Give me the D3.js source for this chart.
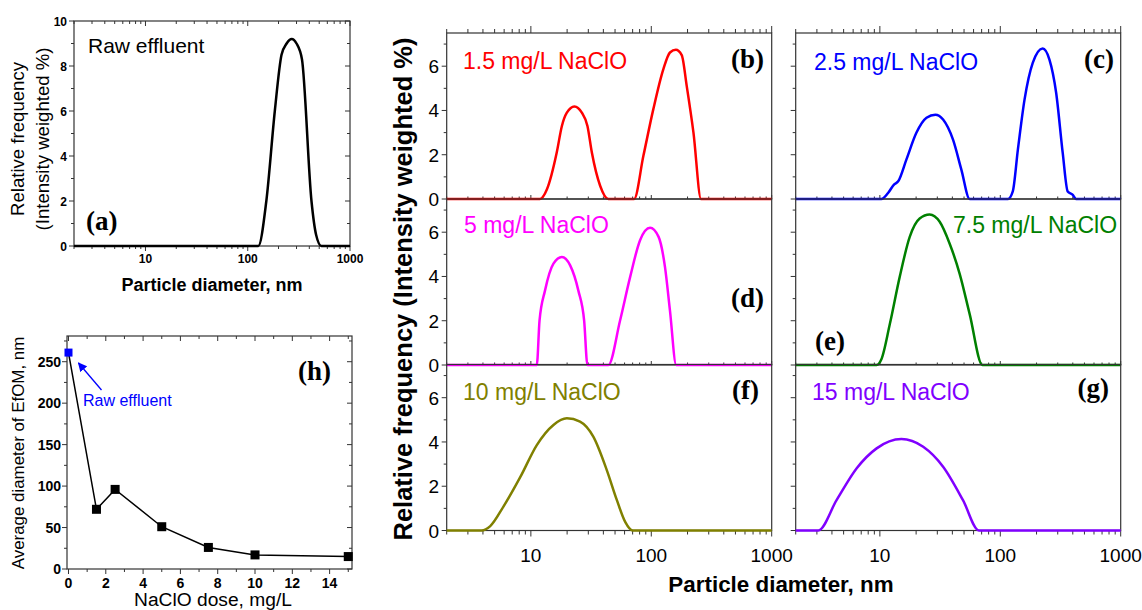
<!DOCTYPE html>
<html><head><meta charset="utf-8">
<script src="https://cdn.jsdelivr.net/npm/d3@7"></script>
<style>body{margin:0;background:#fff} svg{display:block;font-family:"Liberation Sans",Arial,sans-serif}</style>
</head><body><svg id="c" width="1142" height="610"></svg>
<script>
// ---------- DATA ----------
const logTickLabels = ["10", "100", "1000"];
const logTickValues = [10, 100, 1000];
const freqTicks = [0, 2, 4, 6];
const rawTicks = [0, 2, 4, 6, 8, 10];

const rawDiam = [2, 127, 152, 184, 214, 240, 269, 300, 339, 420, 466, 525, 1000];
const rawFreq = [0, 0, 2, 6, 8.5, 9.0, 9.2, 9.0, 8.3, 2, 0.5, 0, 0];

const d15Diam = [2, 11.9, 13.6, 16.4, 18.1, 19.9, 23, 26.5, 29.5, 32.1, 37.6, 44, 72, 86, 104, 126, 143, 160, 179, 197, 224, 259, 1000];
const d15Freq = [0, 0, 0.44, 2.1, 3.3, 3.9, 4.18, 3.9, 3.3, 2.1, 0.6, 0, 0, 1.95, 4.06, 5.87, 6.62, 6.74, 6.5, 5.1, 3.0, 0, 0];

const d25Diam = [2, 10.3, 11.7, 13.1, 14.2, 16.6, 20.1, 24.4, 28.9, 33.5, 40.5, 47.5, 55.7, 116, 127, 140, 159, 186, 225, 256, 291, 330, 363, 398, 427, 1000];
const d25Freq = [0, 0, 0.27, 0.65, 0.8, 1.78, 2.99, 3.67, 3.81, 3.59, 2.68, 1.33, 0, 0, 0.34, 2.23, 4.49, 6.15, 6.8, 6.3, 4.8, 2.08, 0.34, 0.2, 0, 0];

const d5Diam = [2, 11.2, 11.8, 13.1, 15.4, 18.1, 21.2, 24.8, 27.7, 29.5, 44, 55, 66.7, 80.7, 97.7, 115, 130, 143, 161, 1000];
const d5Freq = [0, 0, 2.0, 3.36, 4.58, 4.88, 4.5, 3.36, 2.0, 0, 0, 2.0, 3.97, 5.64, 6.2, 5.79, 4.42, 2.45, 0, 0];

const d75Diam = [2, 9.4, 10.3, 12.1, 14.6, 17.7, 21.4, 25.9, 31.4, 38, 46, 55.7, 71, 1000];
const d75Freq = [0, 0, 0.26, 1.85, 3.97, 5.79, 6.62, 6.8, 6.47, 5.48, 4.12, 2.3, 0, 0];

const d10Diam = [2, 3.9, 4.6, 5.9, 8.2, 11.2, 15.4, 19.9, 25.6, 33, 42.7, 51.8, 60.7, 70.2, 1000];
const d10Freq = [0, 0, 0.2, 1.07, 2.43, 3.86, 4.77, 5.07, 4.92, 4.24, 2.73, 1.37, 0.39, 0, 0];

const d150Diam = [2, 3.08, 4.37, 6.4, 9.4, 15.1, 22.9, 33.5, 49, 66.5, 1000];
const d150Freq = [0, 0, 1.37, 2.8, 3.71, 4.13, 3.78, 2.88, 1.37, 0, 0];

const doses = [1.5, 2.5, 5, 7.5, 10, 15];
const avgDiam = [72, 96, 51, 26, 17, 15];
const rawDose = [0];
const rawAvg = [261];
const doseTicks = [0, 2, 4, 6, 8, 10, 12, 14];
const avgTicks = [0, 50, 100, 150, 200, 250];

// ---------- HELPERS ----------
const svg = d3.select("#c");
const AX = "#333";
function logMinor(lo, hi) {
  const out = [];
  for (let p = 0; p <= 3; p++) for (let m = 1; m < 10; m++) {
    const v = m * Math.pow(10, p);
    if (v >= lo && v <= hi) out.push(v);
  }
  return out;
}
function tick(g, x1, y1, x2, y2) {
  g.append("line").attr("x1", x1).attr("y1", y1).attr("x2", x2).attr("y2", y2)
    .attr("stroke", AX).attr("stroke-width", 1);
}
function frame(x0, y0, w, h) {
  svg.append("rect").attr("x", x0).attr("y", y0).attr("width", w).attr("height", h)
    .attr("fill", "none").attr("stroke", AX).attr("stroke-width", 1.2);
}
function curve(x, y, xs, ys, color, sw) {
  const pts = xs.map((d, i) => [x(d), y(ys[i])]);
  svg.append("path").datum(pts)
    .attr("d", d3.line().curve(d3.curveMonotoneX))
    .attr("fill", "none").attr("stroke", color).attr("stroke-width", sw)
    .attr("stroke-linejoin", "round");
}

// ---------- PANEL (a) ----------
{
  const x = d3.scaleLog().domain([2, 1000]).range([74, 350]);
  const y = d3.scaleLinear().domain([0, 10]).range([246, 21]);
  const g = svg.append("g");
  frame(74, 21, 276, 225);
  logMinor(2, 1000).forEach(v => {
    const major = logTickValues.includes(v);
    const L = major ? 5 : 3;
    tick(g, x(v), 246, x(v), 246 + L);
    tick(g, x(v), 21, x(v), 21 + L);
  });
  d3.range(0, 11, 1).forEach(v => {
    const major = v % 2 === 0;
    const L = major ? 5 : 3;
    tick(g, 74, y(v), 74 - L, y(v));
    tick(g, 350, y(v), 350 - L, y(v));
  });
  rawTicks.forEach(v => svg.append("text").attr("x", 67).attr("y", y(v) + 4.5)
    .attr("text-anchor", "end").attr("font-size", 12).attr("font-weight", "bold").text(v));
  logTickValues.forEach((v, i) => svg.append("text").attr("x", x(v)).attr("y", 263)
    .attr("text-anchor", "middle").attr("font-size", 12).attr("font-weight", "bold").text(logTickLabels[i]));
  curve(x, y, rawDiam, rawFreq, "#000", 2.5);
  svg.append("text").attr("x", 88).attr("y", 53).attr("font-size", 21).text("Raw effluent");
  svg.append("text").attr("x", 86).attr("y", 230).attr("font-size", 27).attr("font-weight", "bold")
    .attr("font-family", "Liberation Serif, serif").text("(a)");
  svg.append("text").attr("x", 212).attr("y", 291).attr("text-anchor", "middle")
    .attr("font-size", 18).attr("font-weight", "bold").text("Particle diameter, nm");
  const yt = svg.append("text").attr("transform", "translate(0,139) rotate(-90)")
    .attr("text-anchor", "middle").attr("font-size", 18.6);
  yt.append("tspan").attr("x", 0).attr("y", 24).text("Relative frequency");
  yt.append("tspan").attr("x", 0).attr("y", 49).text("(Intensity weighted %)");
}

// ---------- PANEL (h) ----------
{
  const x = d3.scaleLinear().domain([-0.08, 15.2]).range([67, 352]);
  const y = d3.scaleLinear().domain([0, 281]).range([569, 336]);
  const g = svg.append("g");
  frame(67, 336, 285, 233);
  d3.range(0, 16, 1).forEach(v => {
    const major = v % 2 === 0;
    const L = major ? 5 : 3;
    tick(g, x(v), 569, x(v), 569 + L);
    tick(g, x(v), 336, x(v), 336 + L);
  });
  d3.range(0, 276, 25).forEach(v => {
    const major = v % 50 === 0;
    const L = major ? 5 : 3;
    tick(g, 67, y(v), 67 - L, y(v));
    tick(g, 352, y(v), 352 - L, y(v));
  });
  avgTicks.forEach(v => svg.append("text").attr("x", 61).attr("y", y(v) + 5)
    .attr("text-anchor", "end").attr("font-size", 14).attr("font-weight", "bold").text(v));
  doseTicks.forEach(v => svg.append("text").attr("x", x(v)).attr("y", 588)
    .attr("text-anchor", "middle").attr("font-size", 14).attr("font-weight", "bold").text(v));
  const allX = rawDose.concat(doses), allY = rawAvg.concat(avgDiam);
  svg.append("path").datum(allX.map((d, i) => [x(d), y(allY[i])]))
    .attr("d", d3.line()).attr("fill", "none").attr("stroke", "#000").attr("stroke-width", 1.5);
  doses.forEach((d, i) => svg.append("rect").attr("x", x(d) - 4.5).attr("y", y(avgDiam[i]) - 4.5)
    .attr("width", 9).attr("height", 9).attr("fill", "#000"));
  svg.append("rect").attr("x", x(rawDose[0]) - 4).attr("y", y(rawAvg[0]) - 4)
    .attr("width", 8).attr("height", 8).attr("fill", "#0000ff");
  svg.append("defs").append("marker").attr("id", "ah").attr("viewBox", "0 0 10 10")
    .attr("refX", 9).attr("refY", 5).attr("markerWidth", 7).attr("markerHeight", 7)
    .attr("orient", "auto").append("path").attr("d", "M0,0 L10,5 L0,10 z").attr("fill", "#0000ff");
  svg.append("line").attr("x1", 101.5).attr("y1", 390).attr("x2", 78.5).attr("y2", 363)
    .attr("stroke", "#0000ff").attr("stroke-width", 1.3).attr("marker-end", "url(#ah)");
  svg.append("text").attr("x", 83).attr("y", 406).attr("font-size", 16).attr("fill", "#0000ff").text("Raw effluent");
  svg.append("text").attr("x", 298).attr("y", 380).attr("font-size", 27).attr("font-weight", "bold")
    .attr("font-family", "Liberation Serif, serif").text("(h)");
  svg.append("text").attr("x", 213).attr("y", 606).attr("text-anchor", "middle")
    .attr("font-size", 19.2).text("NaClO dose, mg/L");
  svg.append("text").attr("transform", "translate(24,453) rotate(-90)")
    .attr("text-anchor", "middle").attr("font-size", 16.9).text("Average diameter of EfOM, nm");
}

// ---------- PANELS (b)-(g) ----------
const panels = [
  { col: 0, row: 0, xs: d15Diam, ys: d15Freq, color: "#ff0000", name: "1.5 mg/L NaClO", lx: 463, ly: 69, tag: "(b)", tx: 764, ty: 68 },
  { col: 1, row: 0, xs: d25Diam, ys: d25Freq, color: "#0000ff", name: "2.5 mg/L NaClO", lx: 814, ly: 70, tag: "(c)", tx: 1114, ty: 68 },
  { col: 0, row: 1, xs: d5Diam, ys: d5Freq, color: "#ff00ff", name: "5 mg/L NaClO", lx: 464, ly: 233, tag: "(d)", tx: 764, ty: 307 },
  { col: 1, row: 1, xs: d75Diam, ys: d75Freq, color: "#008000", name: "7.5 mg/L NaClO", lx: 953, ly: 233, tag: "(e)", tx: 845, ty: 350 },
  { col: 0, row: 2, xs: d10Diam, ys: d10Freq, color: "#808000", name: "10 mg/L NaClO", lx: 463, ly: 400, tag: "(f)", tx: 759, ty: 399 },
  { col: 1, row: 2, xs: d150Diam, ys: d150Freq, color: "#8000ff", name: "15 mg/L NaClO", lx: 812, ly: 400, tag: "(g)", tx: 1109, ty: 397 }
];
const colLeft = [446.7, 795.7], colW = 325;
const rowTop = [33, 199, 364.5], rowH = 166;
panels.forEach(p => {
  const x0 = colLeft[p.col], y0 = rowTop[p.row];
  const x = d3.scaleLog().domain([2, 1000]).range([x0, x0 + colW]);
  const y = d3.scaleLinear().domain([0, 7.5]).range([y0 + rowH, y0]);
  const g = svg.append("g");
  frame(x0, y0, colW, rowH);
  logMinor(2, 1000).forEach(v => {
    const major = logTickValues.includes(v);
    if (p.row === 2) tick(g, x(v), y0 + rowH, x(v), y0 + rowH + (major ? 6 : 4));
    else tick(g, x(v), y0 + rowH, x(v), y0 + rowH - (major ? 4 : 2.5));
    if (p.row === 0) tick(g, x(v), y0, x(v), y0 - (major ? 7 : 4));
  });
  d3.range(0, 8, 1).forEach(v => {
    const major = v % 2 === 0;
    tick(g, x0, y(v), x0 - (major ? 5 : 3), y(v));
  });
  if (p.col === 0) freqTicks.forEach(v => svg.append("text").attr("x", 439).attr("y", y(v) + 7)
    .attr("text-anchor", "end").attr("font-size", 19).text(v));
  if (p.row === 2) logTickValues.forEach((v, i) => svg.append("text").attr("x", x(v)).attr("y", 562)
    .attr("text-anchor", "middle").attr("font-size", 19).text(logTickLabels[i]));
  curve(x, y, p.xs, p.ys, p.color, 2.5);
  svg.append("text").attr("x", p.lx).attr("y", p.ly).attr("font-size", 23).attr("fill", p.color).text(p.name);
  svg.append("text").attr("x", p.tx).attr("y", p.ty).attr("text-anchor", "end").attr("font-size", 27)
    .attr("font-weight", "bold").attr("font-family", "Liberation Serif, serif").text(p.tag);
});
svg.append("text").attr("x", 781).attr("y", 592).attr("text-anchor", "middle")
  .attr("font-size", 22.4).attr("font-weight", "bold").text("Particle diameter, nm");
svg.append("text").attr("transform", "translate(412,289) rotate(-90)")
  .attr("text-anchor", "middle").attr("font-size", 25.5).attr("font-weight", "bold")
  .text("Relative frequency (Intensity weighted %)");
</script></body></html>
